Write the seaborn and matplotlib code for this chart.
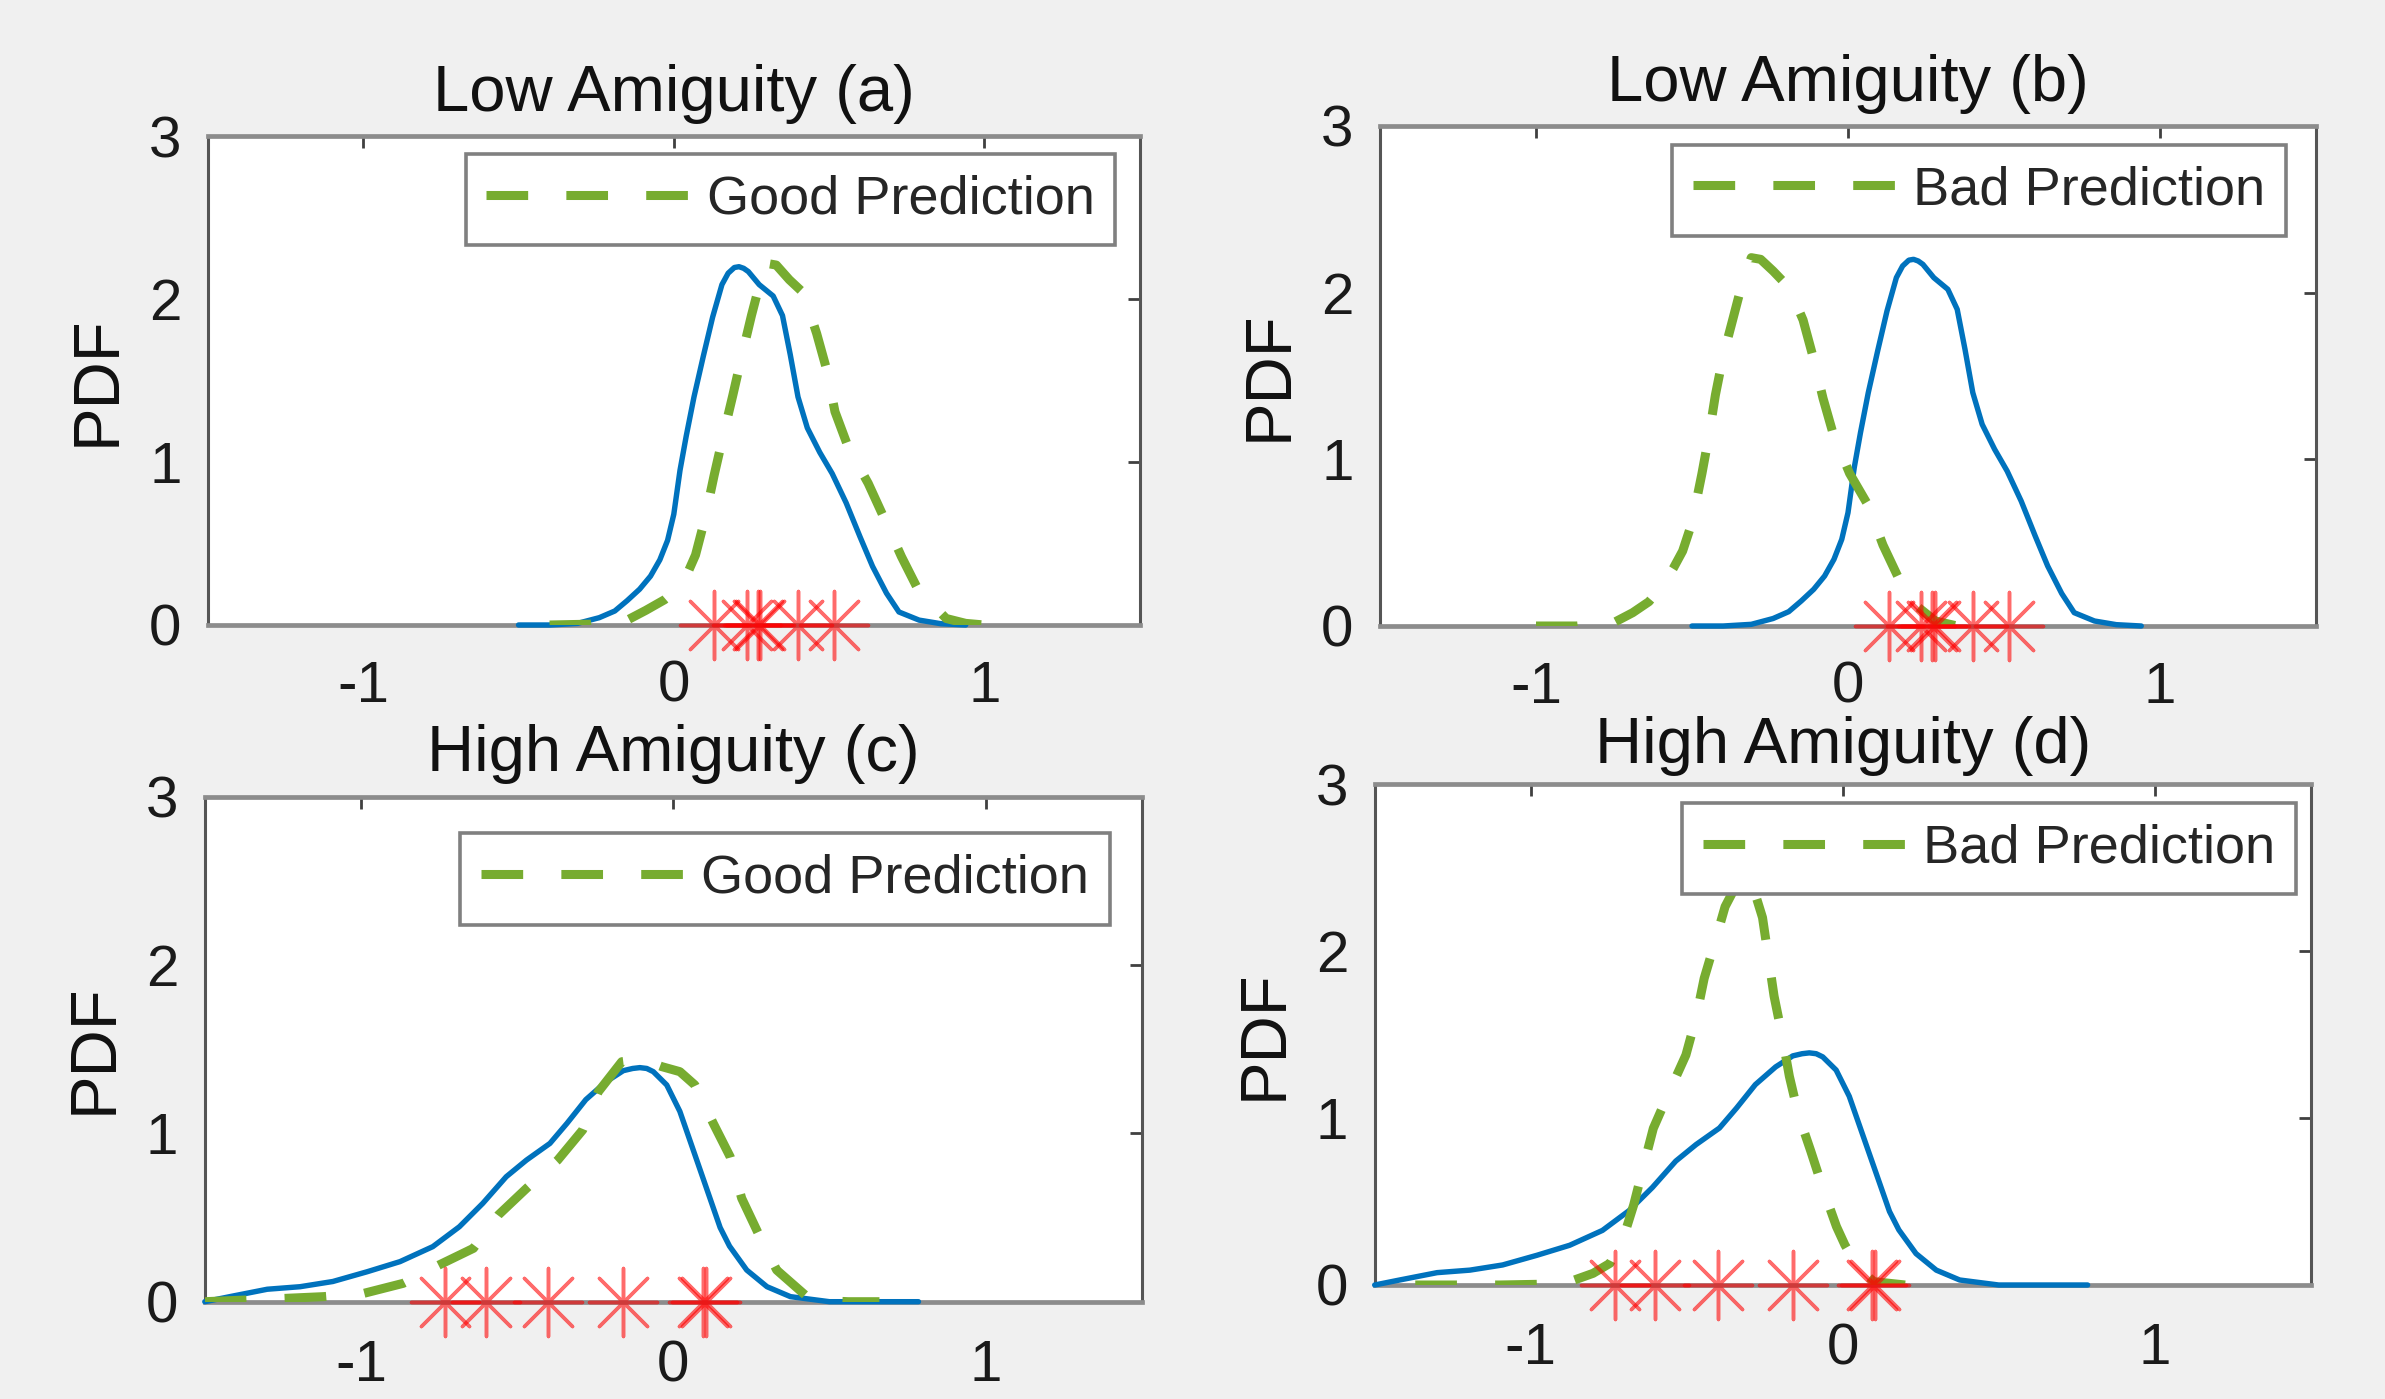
import matplotlib
matplotlib.use("Agg")
import matplotlib.pyplot as plt
import numpy as np
import seaborn as sns

# ---- data ----
# low ambiguity: estimated PDF (blue), same in panels a and b
low_x = [-0.50, -0.40, -0.31, -0.24, -0.19, -0.15, -0.11, -0.075, -0.045, -0.02, 0.0, 0.02,
         0.04, 0.065, 0.095, 0.125, 0.155, 0.175, 0.195, 0.21, 0.225, 0.24, 0.275, 0.32,
         0.35, 0.375, 0.40, 0.43, 0.47, 0.51, 0.555, 0.60, 0.64, 0.685, 0.725, 0.79, 0.86, 0.94]
low_pdf = [0.0, 0.0, 0.01, 0.045, 0.086, 0.15, 0.22, 0.30, 0.40, 0.52, 0.68, 0.95,
           1.16, 1.40, 1.65, 1.89, 2.09, 2.16, 2.195, 2.20, 2.19, 2.17, 2.09, 2.02,
           1.90, 1.66, 1.40, 1.21, 1.06, 0.93, 0.75, 0.54, 0.36, 0.195, 0.08, 0.03, 0.008, 0.0]

# panel a: good prediction
good_low_x = [-0.40, -0.27, -0.15, -0.09, -0.03, 0.01, 0.04, 0.07, 0.10, 0.13, 0.16, 0.19,
              0.22, 0.25, 0.28, 0.30, 0.33, 0.372, 0.417, 0.46, 0.492, 0.519, 0.562, 0.626,
              0.68, 0.733, 0.786, 0.877, 0.94, 1.00]
good_low_y = [0.0, 0.005, 0.03, 0.09, 0.155, 0.22, 0.30, 0.43, 0.65, 0.92, 1.17, 1.41,
              1.66, 1.90, 2.12, 2.22, 2.21, 2.12, 2.04, 1.79, 1.57, 1.31, 1.09, 0.87,
              0.645, 0.42, 0.22, 0.04, 0.01, 0.0]

# panel b: bad prediction
bad_low_x = [-1.00, -0.87, -0.745, -0.69, -0.638, -0.595, -0.56, -0.53, -0.50, -0.468,
             -0.445, -0.425, -0.40, -0.367, -0.34, -0.31, -0.28, -0.24, -0.202, -0.17,
             -0.144, -0.112, -0.08, -0.048, 0.005, 0.064, 0.112, 0.165, 0.22, 0.28, 0.35]
bad_low_y = [0.0, 0.0, 0.026, 0.08, 0.146, 0.24, 0.346, 0.45, 0.62, 0.916,
             1.15, 1.386, 1.62, 1.856, 2.05, 2.21, 2.20, 2.13, 2.056, 1.95,
             1.836, 1.615, 1.366, 1.156, 0.916, 0.726, 0.486, 0.276, 0.12, 0.03, 0.0]

# high ambiguity: estimated PDF (blue), same in panels c and d
high_x = [-1.50, -1.42, -1.30, -1.195, -1.09, -0.98, -0.875, -0.77, -0.685, -0.61, -0.535,
          -0.47, -0.395, -0.34, -0.28, -0.215, -0.16, -0.13, -0.107, -0.085, -0.064, -0.021,
          0.021, 0.064, 0.107, 0.15, 0.18, 0.235, 0.30, 0.375, 0.50, 0.785]
high_pdf = [0.0, 0.03, 0.074, 0.089, 0.12, 0.178, 0.238, 0.327, 0.445, 0.584, 0.742,
            0.841, 0.94, 1.06, 1.20, 1.306, 1.372, 1.385, 1.39, 1.385, 1.366, 1.287,
            1.13, 0.90, 0.67, 0.44, 0.33, 0.188, 0.089, 0.03, 0.0, 0.0]

# panel c: good prediction
good_high_x = [-1.50, -1.37, -1.24, -1.12, -0.99, -0.865, -0.75, -0.64, -0.56, -0.47, -0.37,
               -0.29, -0.24, -0.165, -0.10, -0.037, 0.021, 0.069, 0.128, 0.182, 0.219, 0.272,
               0.331, 0.422, 0.50, 0.56, 0.66]
good_high_y = [0.0, 0.01, 0.02, 0.03, 0.05, 0.109, 0.218, 0.317, 0.515, 0.673, 0.841,
               1.02, 1.247, 1.425, 1.44, 1.396, 1.366, 1.287, 1.059, 0.861, 0.614, 0.406,
               0.188, 0.04, 0.005, 0.0, 0.0]

# panel d: bad prediction
bad_high_x = [-1.37, -1.10, -0.95, -0.86, -0.80, -0.746, -0.70, -0.67, -0.64, -0.607, -0.555,
              -0.5025, -0.47, -0.444, -0.41, -0.377, -0.345, -0.32, -0.29, -0.257, -0.22,
              -0.195, -0.171, -0.142, -0.102, -0.062, -0.02, 0.007, 0.05, 0.10, 0.20]
bad_high_y = [0.0, 0.0, 0.005, 0.03, 0.07, 0.13, 0.30, 0.479, 0.70, 0.938, 1.16,
              1.3775, 1.60, 1.836, 2.05, 2.2655, 2.38, 2.45, 2.40, 2.20, 1.73,
              1.50, 1.25, 1.02, 0.80, 0.57, 0.35, 0.24, 0.10, 0.02, 0.0]

# observed samples (red asterisks on the x axis)
low_obs = [0.13, 0.235, 0.27, 0.278, 0.40, 0.515]
high_obs = [-0.73, -0.60, -0.40, -0.16, 0.095, 0.105]

titles = ["Low Amiguity (a)", "Low Amiguity (b)", "High Amiguity (c)", "High Amiguity (d)"]
legend_labels = ["Good Prediction", "Bad Prediction", "Good Prediction", "Bad Prediction"]
x_ticks = [-1, 0, 1]
y_ticks = [0, 1, 2, 3]

BLUE = "#0072BD"
GREEN = "#77AC30"

sns.set_style("white")
plt.rcParams["font.family"] = ["Liberation Sans", "DejaVu Sans"]
plt.rcParams["axes.unicode_minus"] = False
plt.rcParams["lines.scale_dashes"] = False

W, H = 2385, 1399
fig = plt.figure(figsize=(W / 100, H / 100), dpi=100, facecolor="#f0f0f0")

# axes boxes in pixels: left, top, right, bottom ; legend anchor ; x tick pad ; title pad
panels = [
    ((208, 136.4, 1139.6, 625), titles[0], low_x, low_pdf, good_low_x, good_low_y,
     legend_labels[0], low_obs, (0.9736, 0.964), 25, 18),
    ((1380, 126, 2316, 626), titles[1], low_x, low_pdf, bad_low_x, bad_low_y,
     legend_labels[1], low_obs, (0.968, 0.963), 25, 18),
    ((204.8, 796.5, 1141.8, 1301.7), titles[2], high_x, high_pdf, good_high_x, good_high_y,
     legend_labels[2], high_obs, (0.966, 0.927), 27, 18),
    ((1374.7, 784, 2310.7, 1285), titles[3], high_x, high_pdf, bad_high_x, bad_high_y,
     legend_labels[3], high_obs, (0.984, 0.962), 27, 15),
]

for box, title, bx, by, gx, gy, lab, obs, anchor, xpad, tpad in panels:
    l, t, r, b = box
    ax = fig.add_axes([l / W, 1 - b / H, (r - l) / W, (b - t) / H])
    ax.set_facecolor("white")

    sns.lineplot(x=bx, y=by, ax=ax, color=BLUE, linewidth=3.9, zorder=3, clip_on=False)
    sns.lineplot(x=gx, y=gy, ax=ax, color=GREEN, linewidth=6.5,
                 linestyle=(0, (30, 27.5)), zorder=3.2, label=lab)
    sns.scatterplot(x=obs, y=np.zeros(len(obs)), ax=ax, marker=(8, 2, 0), s=2400,
                    color="red", linewidth=2.5, alpha=0.58, zorder=4, clip_on=False)

    ax.set_xlim(-1.5, 1.5)
    ax.set_ylim(0, 3)
    ax.set_xticks(x_ticks)
    ax.set_yticks(y_ticks)
    ax.set_xticklabels([str(v) for v in x_ticks])
    ax.set_yticklabels([str(v) for v in y_ticks])
    ax.tick_params(axis="both", direction="in", length=8.5, width=2, color="#404040",
                   labelsize=42, top=True, right=True, labelcolor="#1a1a1a")
    ax.tick_params(axis="x", pad=xpad)
    ax.tick_params(axis="y", pad=19)
    for side in ["top", "bottom"]:
        ax.spines[side].set_color("#8c8c8c")
        ax.spines[side].set_linewidth(3.4)
    for side in ["left", "right"]:
        ax.spines[side].set_color("#555555")
        ax.spines[side].set_linewidth(2.2)

    ax.set_title(title, fontsize=47, pad=tpad, color="#111111")
    ax.set_ylabel("PDF", fontsize=47, labelpad=15.5, color="#111111")
    ax.set_xlabel("")

    leg = ax.legend(loc="upper right", bbox_to_anchor=anchor, borderaxespad=0,
                    fontsize=39, frameon=True, fancybox=False, framealpha=1,
                    handlelength=3.95, handletextpad=0.12, borderpad=0.38)
    leg.get_frame().set_edgecolor("#808080")
    leg.get_frame().set_linewidth(2.6)
    leg.set_zorder(10)

fig.savefig("out.png", dpi=100, facecolor=fig.get_facecolor())
